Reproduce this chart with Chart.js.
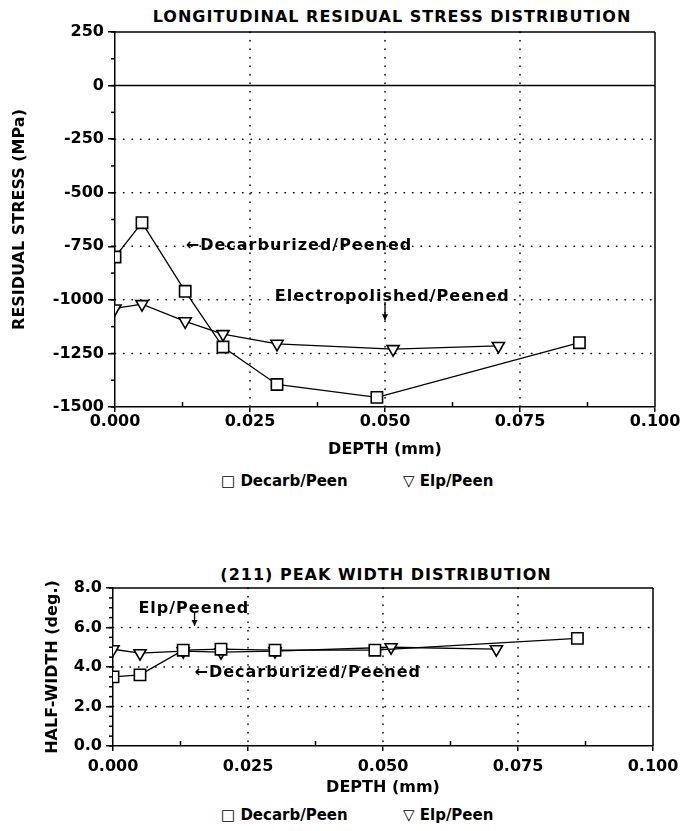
<!DOCTYPE html>
<html>
<head>
<meta charset="utf-8">
<script src="https://cdn.jsdelivr.net/npm/chart.js@4.4.0/dist/chart.umd.min.js"></script>
<style>
  body { margin: 0; background: #fff; width: 697px; height: 831px; overflow: hidden; position: relative;
         font-family: "DejaVu Sans", sans-serif; color: #000; }
  .wrap { position: absolute; }
  .txt { position: absolute; font-size: 15px; font-weight: bold; white-space: nowrap; transform: translateY(-50%); }
  .ctr { transform: translate(-50%, -50%); font-size: 16px; letter-spacing: 1px; }
</style>
</head>
<body>
<div class="txt ctr" style="left:392px; top:16px">LONGITUDINAL RESIDUAL STRESS DISTRIBUTION</div>
<div class="wrap" style="left:0; top:0; width:697px; height:464px"><canvas id="stressChart"></canvas></div>
<div class="txt" style="left:221px; top:481px">□ Decarb/Peen</div>
<div class="txt" style="left:403px; top:481px">▽ Elp/Peen</div>

<div class="txt ctr" style="left:386px; top:574px">(211) PEAK WIDTH DISTRIBUTION</div>
<div class="wrap" style="left:33px; top:567px; width:664px; height:236px"><canvas id="widthChart"></canvas></div>
<div class="txt" style="left:221px; top:815px">□ Decarb/Peen</div>
<div class="txt" style="left:403px; top:815px">▽ Elp/Peen</div>

<script>
// depths (mm) of the measurement points
const decarbDepth = [0.000, 0.005, 0.013, 0.020, 0.030, 0.0485, 0.086];
const elpDepth = [0.000, 0.005, 0.013, 0.020, 0.030, 0.0515, 0.071];

// longitudinal residual stress (MPa)
const decarbStress = [-800, -640, -960, -1220, -1395, -1455, -1200];
const elpStress = [-1040, -1020, -1100, -1160, -1205, -1230, -1215];

// (211) half-width (deg.)
const decarbWidth = [3.5, 3.6, 4.85, 4.9, 4.85, 4.85, 5.45];
const elpWidth = [4.9, 4.7, 4.8, 4.75, 4.8, 5.0, 4.9];

const seriesNames = ['Decarb/Peen', 'Elp/Peen'];

const FONT = { family: 'DejaVu Sans', size: 16, weight: 'bold' };

function points(xs, ys) {
    return xs.map((x, i) => ({ x: x, y: ys[i] }));
}

function datasets(decarbVals, elpVals) {
    return [{
        label: seriesNames[0],
        data: points(decarbDepth, decarbVals),
        showLine: true,
        borderColor: '#000',
        borderWidth: 1.3,
        pointStyle: 'rect',
        pointRadius: 8,
        pointBorderWidth: 1.6,
        pointBackgroundColor: '#fff',
        pointBorderColor: '#000'
    }, {
        label: seriesNames[1],
        data: points(elpDepth, elpVals),
        showLine: true,
        borderColor: '#000',
        borderWidth: 1.3,
        pointStyle: 'triangle',
        pointRotation: 180,
        pointRadius: 7,
        pointBorderWidth: 1.6,
        pointBackgroundColor: '#fff',
        pointBorderColor: '#000'
    }];
}

// dotted grid, solid zero line, box frame, minor ticks, notes
const framePlugin = {
    id: 'frame',
    beforeDatasetsDraw(chart, args, opts) {
        const { ctx, chartArea: a, scales: { x, y } } = chart;
        const line = (x1, y1, x2, y2) => { ctx.beginPath(); ctx.moveTo(x1, y1); ctx.lineTo(x2, y2); ctx.stroke(); };
        ctx.save();
        ctx.strokeStyle = '#000';
        ctx.lineWidth = 1.5;
        ctx.lineCap = 'round';
        ctx.setLineDash([0.5, 8]);
        x.ticks.forEach(t => {
            if (t.value > x.min + 1e-9 && t.value < x.max - 1e-9) {
                const px = x.getPixelForValue(t.value);
                line(px, a.top, px, a.bottom);
            }
        });
        y.ticks.forEach(t => {
            if (t.value > y.min && t.value < y.max && t.value !== 0) {
                const py = y.getPixelForValue(t.value);
                line(a.left, py, a.right, py);
            }
        });
        ctx.setLineDash([]);
        ctx.lineCap = 'butt';
        if (y.min < 0 && y.max > 0) {
            const p0 = y.getPixelForValue(0);
            line(a.left, p0, a.right, p0);
        }
        line(a.left, a.top, a.right, a.top);
        line(a.right, a.top, a.right, a.bottom);
        // minor ticks
        for (let v = y.min; v <= y.max + 1e-9; v += opts.minorY) {
            const py = y.getPixelForValue(v);
            line(a.left - 4, py, a.left, py);
        }
        for (let v = x.min + opts.minorX; v < x.max; v += 2 * opts.minorX) {
            const px = x.getPixelForValue(v);
            line(px, a.bottom, px, a.bottom - 5);
        }
        ctx.restore();
    },
    afterDatasetsDraw(chart, args, opts) {
        const { ctx, scales: { x, y } } = chart;
        ctx.save();
        ctx.fillStyle = '#000';
        ctx.strokeStyle = '#000';
        ctx.font = 'bold 16px "DejaVu Sans"';
        ctx.letterSpacing = '1px';
        ctx.textBaseline = 'middle';
        (opts.notes || []).forEach(n => {
            ctx.fillText(n.text, x.getPixelForValue(n.x), y.getPixelForValue(n.y));
        });
        (opts.arrows || []).forEach(ar => {
            const px = x.getPixelForValue(ar.x);
            const p1 = y.getPixelForValue(ar.y1);
            const p2 = y.getPixelForValue(ar.y2);
            ctx.lineWidth = 1.3;
            ctx.beginPath(); ctx.moveTo(px, p1); ctx.lineTo(px, p2); ctx.stroke();
            ctx.beginPath(); ctx.moveTo(px - 3, p2 - 6); ctx.lineTo(px + 3, p2 - 6); ctx.lineTo(px, p2); ctx.closePath(); ctx.fill();
        });
        ctx.restore();
    }
};

function makeChart(id, cfg) {
    return new Chart(document.getElementById(id), {
        type: 'scatter',
        data: { datasets: cfg.datasets },
        plugins: [framePlugin],
        options: {
            responsive: true,
            maintainAspectRatio: false,
            animation: false,
            layout: { padding: cfg.padding },
            plugins: {
                legend: { display: false },
                tooltip: { enabled: false },
                frame: cfg.frame
            },
            scales: {
                x: {
                    type: 'linear',
                    min: 0, max: 0.1,
                    afterFit: s => { s.height = cfg.xHeight; },
                    ticks: { stepSize: 0.025, color: '#000', font: FONT, padding: cfg.xPad, maxRotation: 0,
                             callback: v => v.toFixed(3) },
                    grid: { drawOnChartArea: false, color: '#000', lineWidth: 1.5, tickLength: 5 },
                    border: { color: '#000', width: 1.5 },
                    title: { display: true, text: 'DEPTH (mm)', color: '#000', font: FONT, padding: { top: 0, bottom: cfg.xTitlePad } }
                },
                y: {
                    min: cfg.yMin, max: cfg.yMax,
                    afterFit: s => { s.width = cfg.yWidth; },
                    ticks: { stepSize: cfg.yStep, color: '#000', font: FONT, padding: 4, callback: cfg.yLabel },
                    grid: { drawOnChartArea: false, color: '#000', lineWidth: 1.5, tickLength: 7 },
                    border: { color: '#000', width: 1.5 },
                    title: { display: true, text: cfg.yTitle, color: '#000', font: FONT, padding: { top: 10, bottom: 0 } }
                }
            }
        }
    });
}

makeChart('stressChart', {
    datasets: datasets(decarbStress, elpStress),
    padding: { top: 32, right: 42, bottom: 0, left: 0 },
    xHeight: 57, xPad: 0, xTitlePad: 5,
    yMin: -1500, yMax: 250, yStep: 250, yWidth: 115,
    yLabel: v => String(v),
    yTitle: 'RESIDUAL STRESS (MPa)',
    frame: {
        minorY: 125, minorX: 0.0125,
        notes: [
            { x: 0.0131, y: -750, text: '←Decarburized/Peened' },
            { x: 0.0296, y: -985, text: 'Electropolished/Peened' }
        ],
        arrows: [{ x: 0.05, y1: -1010, y2: -1095 }]
    }
});

makeChart('widthChart', {
    datasets: datasets(decarbWidth, elpWidth),
    padding: { top: 21, right: 44, bottom: 0, left: 0 },
    xHeight: 57, xPad: 6, xTitlePad: 6,
    yMin: 0, yMax: 8, yStep: 2, yWidth: 80,
    yLabel: v => v.toFixed(1),
    yTitle: 'HALF-WIDTH (deg.)',
    frame: {
        minorY: 0.5, minorX: 0.0125,
        notes: [
            { x: 0.0047, y: 6.95, text: 'Elp/Peened' },
            { x: 0.0151, y: 3.7, text: '←Decarburized/Peened' }
        ],
        arrows: [{ x: 0.0151, y1: 6.75, y2: 6.08 }]
    }
});
</script>
</body>
</html>
